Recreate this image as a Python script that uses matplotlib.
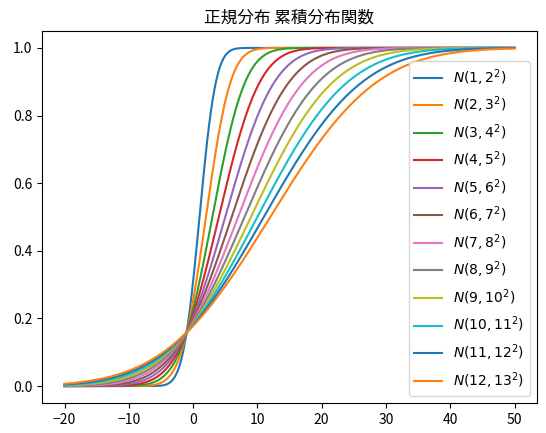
import matplotlib
matplotlib.use('Agg')
import matplotlib.pyplot as plt
import numpy as np, math

# N(mu, sigma^2) parameters for each curve
MUS = [1, 2, 3, 4, 5, 6, 7, 8, 9, 10, 11, 12]
SIGMAS = [2, 3, 4, 5, 6, 7, 8, 9, 10, 11, 12, 13]
X_MIN = -20; X_MAX = 50

plt.rcParams['font.family'] = ['Noto Sans CJK JP', 'DejaVu Sans']

def cdf(x, mu, s):
    return np.array([0.5*(1+math.erf((v-mu)/(s*math.sqrt(2)))) for v in x])

x = np.linspace(X_MIN, X_MAX, 500)

fig = plt.figure(figsize=(5.46, 4.33), dpi=100)
ax = fig.add_axes([42/546, 30/433, 495/546, 372/433])
for mu, s in zip(MUS, SIGMAS):
    ax.plot(x, cdf(x, mu, s), label=f'$N({mu},{s}^2)$')

ax.set_title('正規分布 累積分布関数')
ax.legend(loc='lower right')
plt.savefig('out.png', dpi=100, facecolor='white')
plt.close()
